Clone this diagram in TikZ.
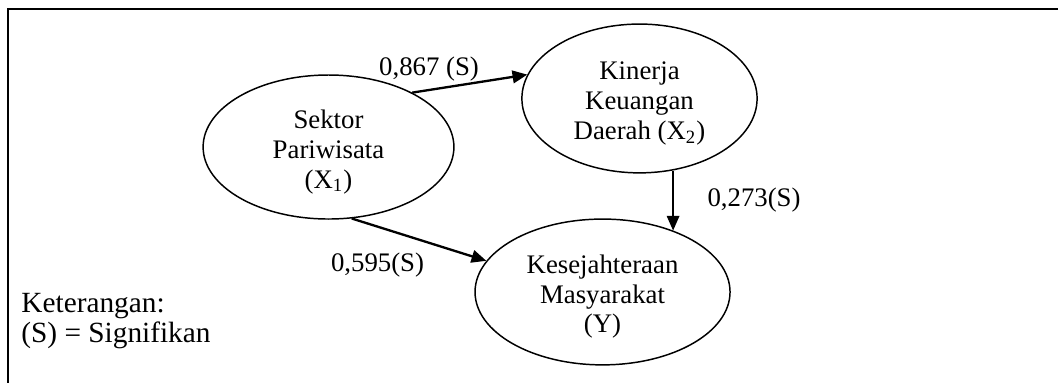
\documentclass[tikz,border=0pt]{standalone}
\usepackage{fontspec}
\setmainfont{Liberation Serif}
\usetikzlibrary{shapes.geometric,arrows.meta}

% text sits a little below the centre of each ellipse
\newcommand{\lowtext}[1]{\raisebox{-2.4pt}[\height][\depth]{\begin{tabular}{@{}c@{}}#1\end{tabular}}}

\begin{document}
\begin{tikzpicture}[
    var/.style={draw, ellipse, line width=0.7pt, inner sep=0pt,
        font=\fontsize{12.7}{14.2}\selectfont},
    effect/.style={-{Triangle[length=7pt,width=6pt]}, line width=1.1pt},
    lbl/.style={font=\fontsize{12.7}{14.2}\selectfont, inner sep=0pt}
]
    \useasboundingbox (0,0) rectangle (17.633,6.383);
    % frame, only top and left edges show
    \draw[line width=1.2pt] (0.133,0) -- (0.133,6.233) -- (17.633,6.233);

    % variables
    \node[var, minimum width=4.18cm, minimum height=2.40cm] (sektor) at (5.475,3.933) {\lowtext{Sektor\\Pariwisata\\(X\textsubscript{1})}};
    \node[var, minimum width=3.92cm, minimum height=2.48cm] (kinerja) at (10.658,4.742) {\lowtext{Kinerja\\Keuangan\\Daerah (X\textsubscript{2})}};
    \node[var, minimum width=4.25cm, minimum height=2.43cm] (kesejahteraan) at (10.042,1.517) {\lowtext{Kesejahteraan\\Masyarakat\\(Y)}};

    % paths
    \draw[effect] (sektor.33) -- (kinerja.168);
    \draw[effect] (sektor.288) -- (kesejahteraan.165);
    \draw[effect, line width=0.7pt] (kinerja.295) -- (kinerja.295 |- kesejahteraan.41);

    \node[lbl] (w1) at (7.15,5.225) {0,867 (S)};
    \node[lbl] (w2) at (6.292,1.967) {0,595(S)};
    \node[lbl] (w3) at (12.567,3.05) {0,273(S)};

    % legend
    \node[lbl, font=\fontsize{13.9}{14.2}\selectfont, anchor=west, align=left] (ket) at (0.35,1.04) {Keterangan:\\(S) = Signifikan};
\end{tikzpicture}
\end{document}
